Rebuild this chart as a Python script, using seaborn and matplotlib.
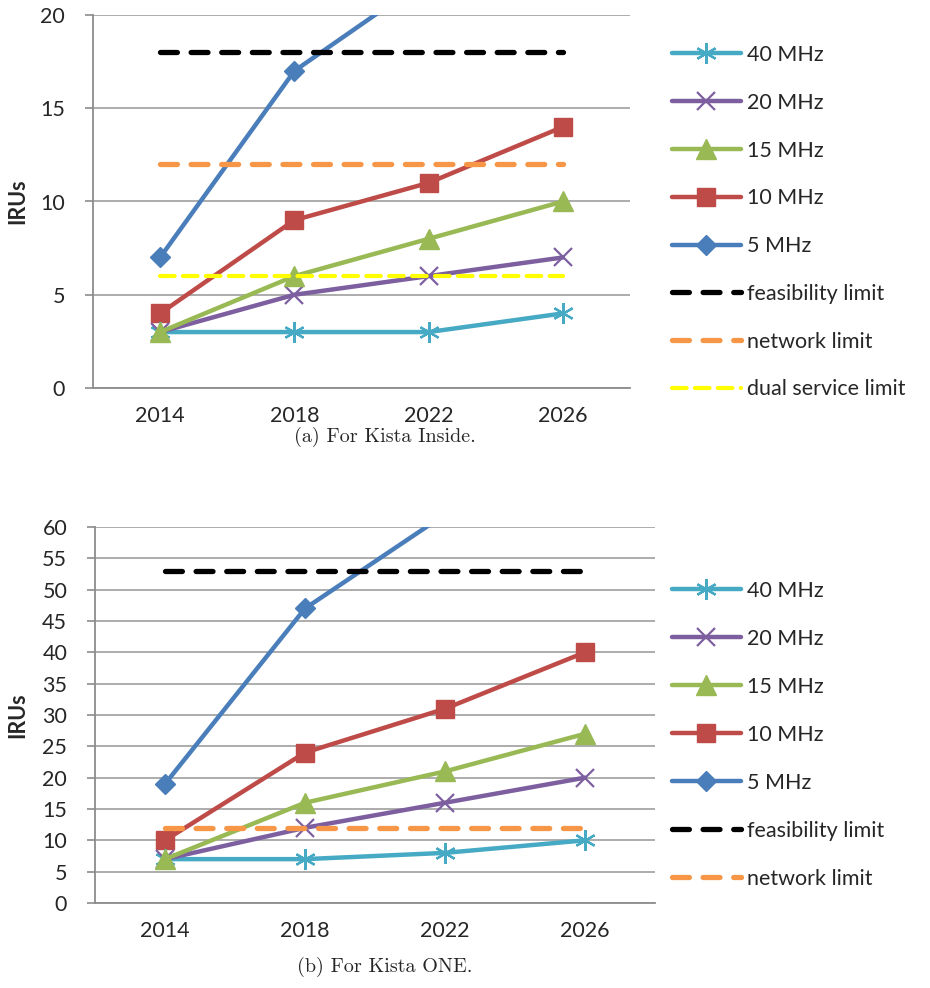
import matplotlib
matplotlib.use('Agg')
import numpy as np
import seaborn as sns
from matplotlib import pyplot as plt
from matplotlib.ticker import FixedLocator, NullFormatter

sns.set_style('white')
plt.rcParams['font.family'] = ['Lato', 'DejaVu Sans']

years = ['2014', '2018', '2022', '2026']
series_names = ['40 MHz', '20 MHz', '15 MHz', '10 MHz', '5 MHz']

# (a) Kista Inside
inside_40 = [3, 3, 3, 4]
inside_20 = [3, 5, 6, 7]
inside_15 = [3, 6, 8, 10]
inside_10 = [4, 9, 11, 14]
inside_5 = [7, 17, 22, 27]
inside_feasibility = 18
inside_network = 12
inside_dual = 6

# (b) Kista ONE
one_40 = [7, 7, 8, 10]
one_20 = [7, 12, 16, 20]
one_15 = [7, 16, 21, 27]
one_10 = [10, 24, 31, 40]
one_5 = [19, 47, 62, 76]
one_feasibility = 53
one_network = 12

colors = {
    '40 MHz': '#46AAC4',
    '20 MHz': '#7D5FA0',
    '15 MHz': '#98B954',
    '10 MHz': '#BE4B48',
    '5 MHz': '#4A7EBB',
}
markers = {
    '40 MHz': ((6, 2, 0), 15, 1.6),
    '20 MHz': ('x', 13, 1.6),
    '15 MHz': ('^', 15, 1),
    '10 MHz': ('s', 13, 1),
    '5 MHz': ('D', 10, 1),
}
limit_styles = {
    'feasibility limit': ('black', 3.8, (3.2, 2.6)),
    'network limit': ('#F79646', 3.8, (3.2, 2.6)),
    'dual service limit': ('#FFFF00', 3.0, (3.5, 2.0)),
}

FS = 15.5
GRID = '#A6A6A6'
pos = np.arange(len(years))


def draw_panel(ax, values, limits, ymax, ystep, legend_y, spacing):
    handles = {}
    for name in ['5 MHz', '10 MHz', '40 MHz', '20 MHz', '15 MHz']:
        m, ms, mew = markers[name]
        sns.lineplot(x=pos, y=values[name], ax=ax, color=colors[name], lw=3.2,
                     marker=m, markersize=ms, markeredgewidth=mew,
                     markeredgecolor=colors[name], markerfacecolor=colors[name],
                     label=name, zorder=3)
        handles[name] = ax.lines[-1]
    for name, val in limits.items():
        c, lw, dash = limit_styles[name]
        sns.lineplot(x=pos, y=[val] * len(pos), ax=ax, color=c, lw=lw, label=name, zorder=4)
        line = ax.lines[-1]
        line.set_dashes(dash)
        line.set_dash_capstyle('round')
        handles[name] = line
    if ax.get_legend():
        ax.get_legend().remove()

    ax.set_xlim(-0.5, len(years) - 0.5)
    ax.set_ylim(0, ymax)
    ax.set_yticks(np.arange(0, ymax + 1, ystep))
    ax.set_xticks(pos)
    ax.set_xticklabels(years)
    ax.xaxis.set_minor_locator(FixedLocator(np.arange(-0.5, len(years), 1.0)))
    ax.xaxis.set_minor_formatter(NullFormatter())
    ax.tick_params(axis='x', which='major', length=0, labelsize=FS, pad=13)
    ax.tick_params(axis='x', which='minor', length=7, color='#8C8C8C', width=1.2, direction='out')
    ax.tick_params(axis='y', length=6, color='#8C8C8C', width=1.2, labelsize=FS, pad=14,
                   left=True, direction='out')
    ax.yaxis.grid(True, color=GRID, lw=1.3)
    ax.set_axisbelow(True)
    for s in ['top', 'right']:
        ax.spines[s].set_visible(False)
    for s in ['left', 'bottom']:
        ax.spines[s].set_color('#8C8C8C')
        ax.spines[s].set_linewidth(1.3)
    ax.set_ylabel('IRUs', fontsize=FS, fontweight='bold')
    ax.set_xlabel('')

    order = series_names + list(limits.keys())
    ax.legend([handles[n] for n in order], order, loc='upper left',
              bbox_to_anchor=(672 / 930, legend_y), bbox_transform=ax.figure.transFigure,
              frameon=False, fontsize=FS, handlelength=3.2, handletextpad=0.3,
              labelspacing=spacing, borderaxespad=0, borderpad=0)


fig = plt.figure(figsize=(9.3, 9.88), dpi=100)
ax1 = fig.add_axes([93 / 930, 1 - 388 / 988, (630 - 93) / 930, (388 - 15) / 988])
ax2 = fig.add_axes([95 / 930, 1 - 903 / 988, (655 - 95) / 930, (903 - 527) / 988])

draw_panel(
    ax1,
    dict(zip(series_names, [inside_40, inside_20, inside_15, inside_10, inside_5])),
    {'feasibility limit': inside_feasibility, 'network limit': inside_network,
     'dual service limit': inside_dual},
    20, 5, 1 - 45 / 988, 1.29,
)
draw_panel(
    ax2,
    dict(zip(series_names, [one_40, one_20, one_15, one_10, one_5])),
    {'feasibility limit': one_feasibility, 'network limit': one_network},
    60, 5, 1 - 581 / 988, 1.3,
)
ax1.yaxis.set_label_coords(-65 / 537, 0.5)
ax2.yaxis.set_label_coords(-67 / 560, 0.5)

fig.text(385 / 930, 1 - 437 / 988, '(a) For Kista Inside.', ha='center', va='center',
         fontsize=14.5, family='cmr10')
fig.text(385 / 930, 1 - 967 / 988, '(b) For Kista ONE.', ha='center', va='center',
         fontsize=14.5, family='cmr10')

fig.savefig('out.png', dpi=100)
